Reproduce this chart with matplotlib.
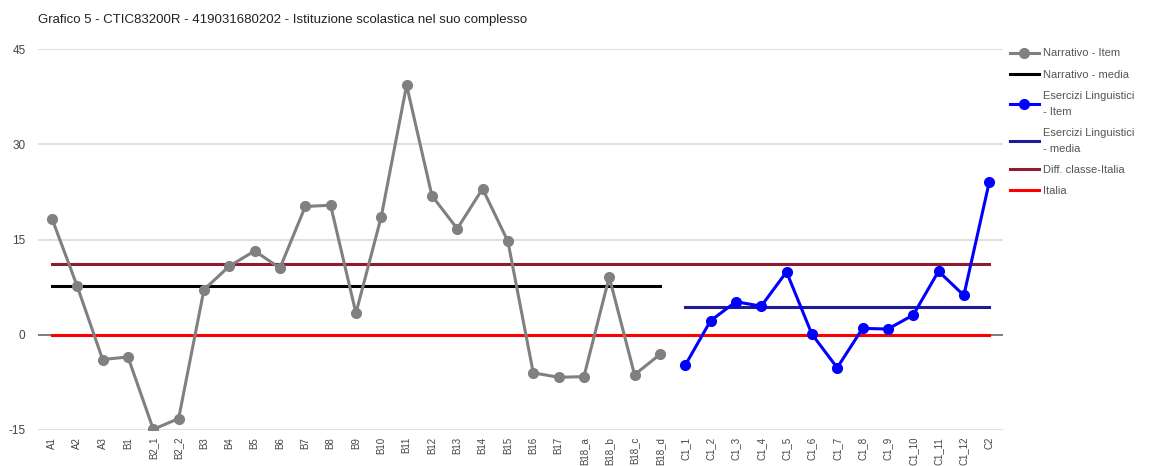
import matplotlib.pyplot as plt

plt.rcParams["font.family"] = ["Liberation Sans", "DejaVu Sans"]

# categories (items)
narr_items = ["A1", "A2", "A3", "B1", "B2_1", "B2_2", "B3", "B4", "B5", "B6",
              "B7", "B8", "B9", "B10", "B11", "B12", "B13", "B14", "B15",
              "B16", "B17", "B18_a", "B18_b", "B18_c", "B18_d"]
eser_items = ["C1_1", "C1_2", "C1_3", "C1_4", "C1_5", "C1_6", "C1_7", "C1_8",
              "C1_9", "C1_10", "C1_11", "C1_12", "C2"]

# series values
narr_vals = [18.3, 7.6, -3.9, -3.5, -14.9, -13.2, 7.1, 10.8, 13.2, 10.5,
             20.2, 20.4, 3.4, 18.6, 39.3, 21.9, 16.7, 23.0, 14.7,
             -6.0, -6.7, -6.6, 9.1, -6.3, -3.1]
eser_vals = [-4.8, 2.2, 5.2, 4.5, 9.9, 0.1, -5.2, 1.0, 0.9, 3.1, 10.0, 6.2, 24.0]

narr_media = 7.6
eser_media = 4.4
diff_classe_italia = 11.1
italia = 0.0

y_ticks = [-15, 0, 15, 30, 45]
title = "Grafico 5 - CTIC83200R - 419031680202 - Istituzione scolastica nel suo complesso"

labels = narr_items + eser_items
xn = list(range(len(narr_items)))
xe = list(range(len(narr_items), len(labels)))
x_all = [0, len(labels) - 1]

fig = plt.figure(figsize=(11.53, 4.66), dpi=100)
ax = fig.add_axes([0.033, 0.0773, 0.837, 0.8175])

ax.set_xlim(-0.55, len(labels) - 1 + 0.55)
ax.set_ylim(-15, 45)

for t in y_ticks:
    ax.axhline(t, color="#d9d9d9" if t != 0 else "#666666", lw=1.2, zorder=0)

ax.plot(xn, narr_vals, color="#808080", lw=2.2, marker="o", ms=7,
        label="Narrativo - Item", zorder=4)
ax.plot([xn[0], xn[-1]], [narr_media] * 2, color="#000000", lw=2.2,
        label="Narrativo - media", zorder=3)
ax.plot(xe, eser_vals, color="#0000ff", lw=2.2, marker="o", ms=7,
        label="Esercizi Linguistici\n- Item", zorder=4)
ax.plot([xe[0], xe[-1]], [eser_media] * 2, color="#1c1c96", lw=2.2,
        label="Esercizi Linguistici\n- media", zorder=3)
ax.plot(x_all, [diff_classe_italia] * 2, color="#8e1b2e", lw=2.2,
        label="Diff. classe-Italia", zorder=3)
ax.plot(x_all, [italia] * 2, color="#ff0000", lw=2.2, label="Italia", zorder=3)

for s in ax.spines.values():
    s.set_visible(False)

ax.set_yticks(y_ticks)
ax.set_yticklabels([str(t) for t in y_ticks], color="#444444", fontsize=8.5)
ax.set_xticks(range(len(labels)))
ax.set_xticklabels(labels, rotation=90, color="#444444", fontsize=7)
ax.tick_params(axis="both", length=0)
ax.tick_params(axis="y", pad=9)
ax.tick_params(axis="x", pad=5)

fig.text(0.033, 0.957, title, fontsize=9.5, color="#222222", va="center")

leg = fig.legend(loc="upper left", bbox_to_anchor=(0.876, 0.896), frameon=False,
                 fontsize=8, labelcolor="#555555", handlelength=2.6,
                 handletextpad=0.4, labelspacing=1.0, borderpad=0,
                 borderaxespad=0)
for txt in leg.get_texts():
    txt.set_linespacing(1.75)

fig.savefig("out.png", dpi=100)
